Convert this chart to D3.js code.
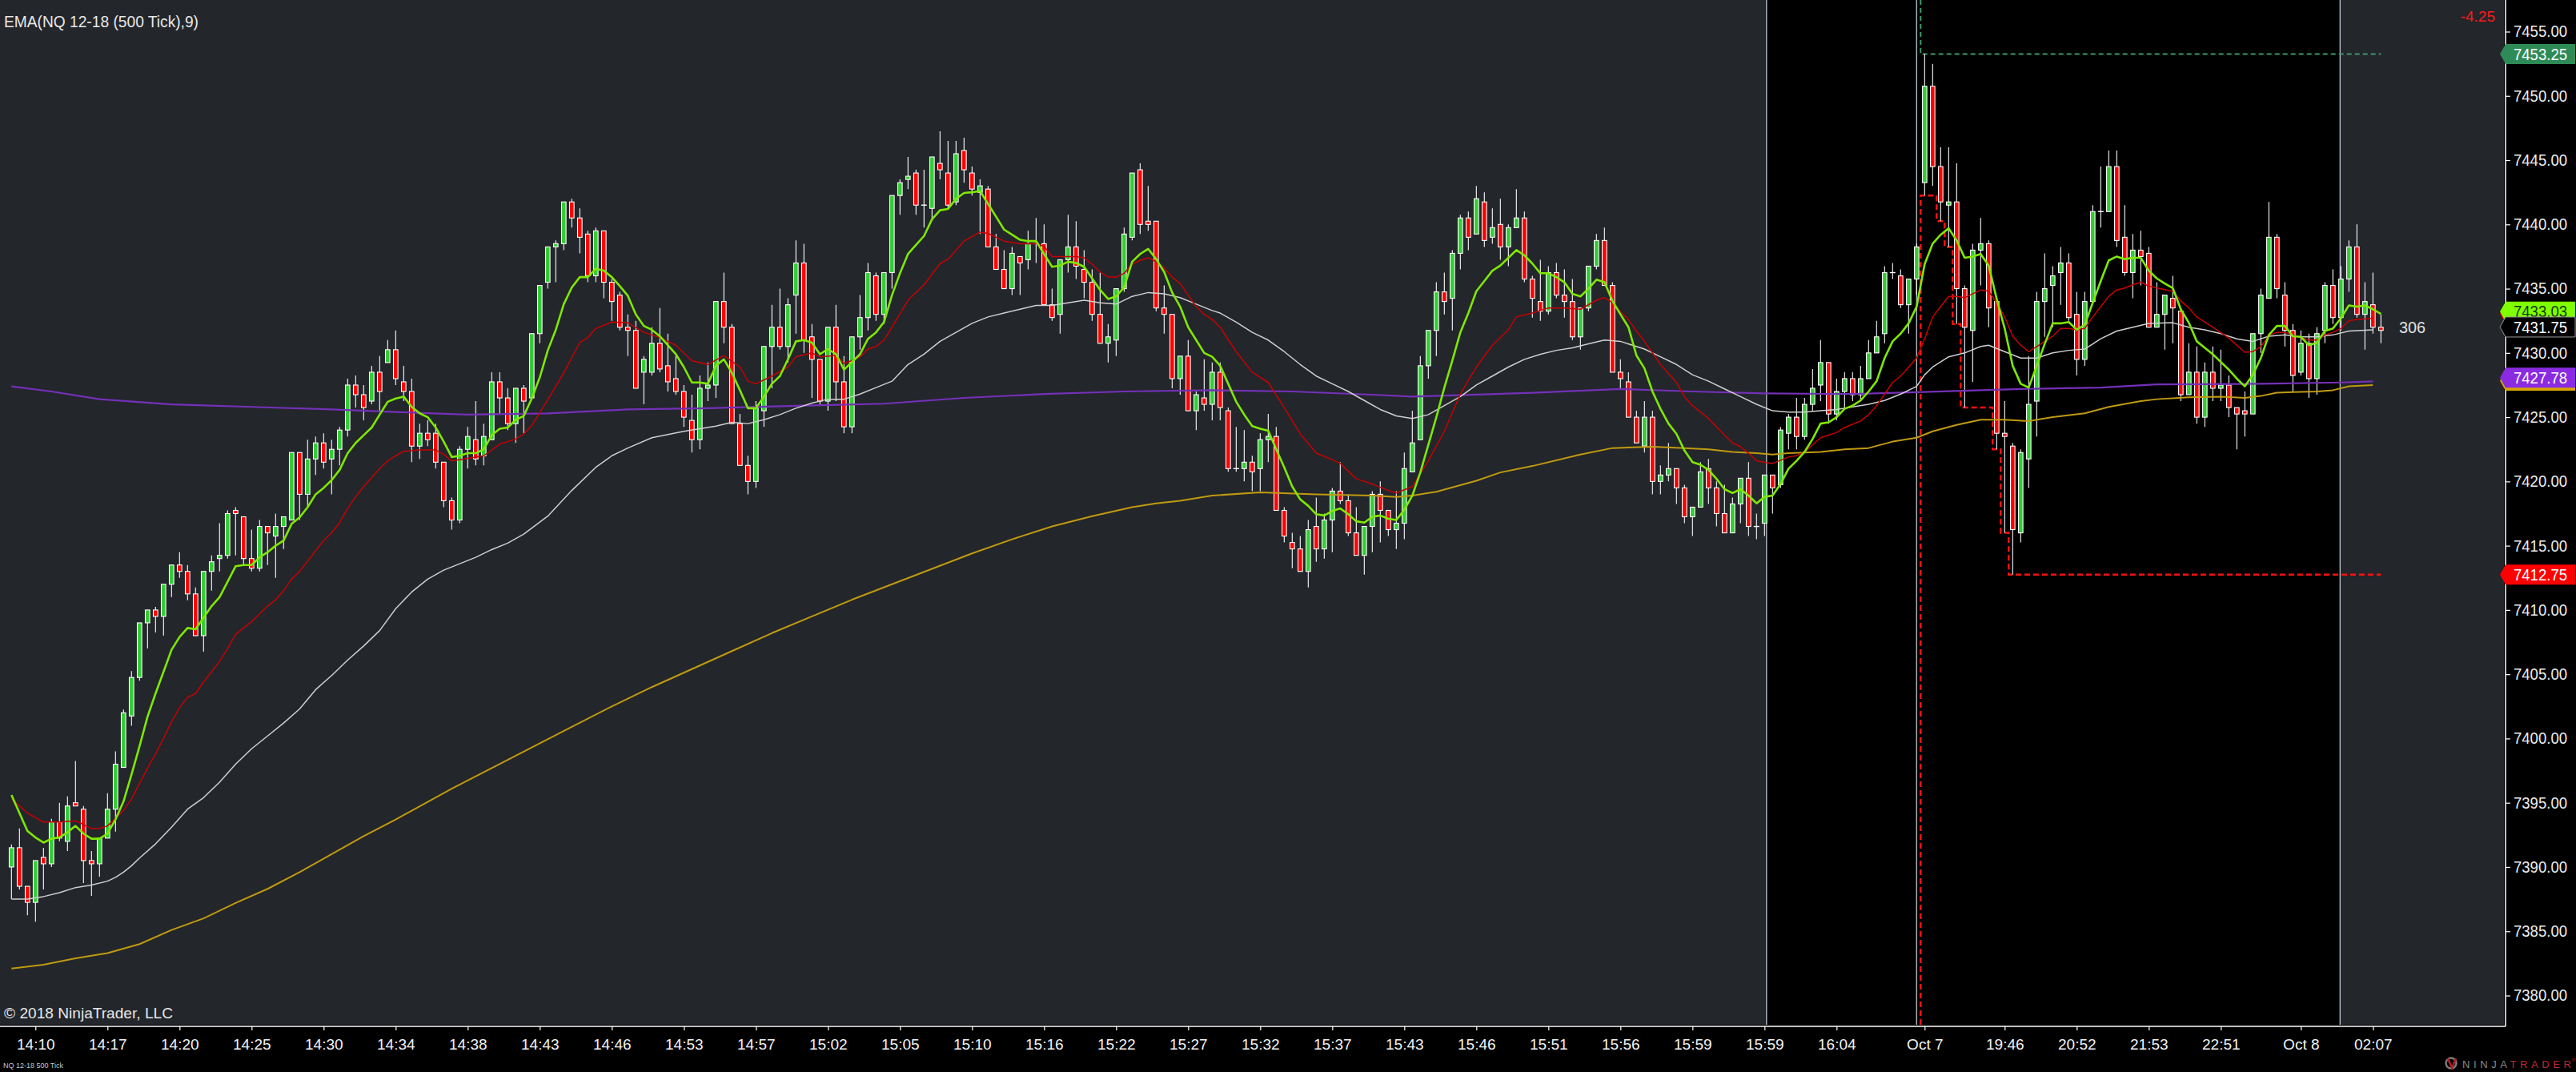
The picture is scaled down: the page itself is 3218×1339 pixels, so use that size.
<!DOCTYPE html>
<html>
<head>
<meta charset="utf-8">
<script src="https://cdn.jsdelivr.net/npm/d3@7"></script>
<style>
html, body { margin: 0; padding: 0; background: #000; overflow: hidden; }
svg { display: block; font-family: "Liberation Sans", Arial, sans-serif; }
</style>
</head>
<body>
<svg id="chart" width="3218" height="1339"></svg>
<script>
// NQ 12-18, 500 tick bars
const opens = [
7390.0,7391.5,7388.5,7387.25,7390.75,7390.25,7393.5,7392.0,7395.0,7394.5,
7390.5,7390.25,7392.25,7394.5,7397.75,7401.75,7404.75,7409.0,7410.0,7409.5,
7412.0,7413.5,7413.0,7411.25,7408.0,7413.0,7414.0,7414.25,7417.75,7417.25,
7414.0,7413.25,7416.5,7415.75,7416.5,7417.0,7422.25,7419.0,7421.75,7423.0,
7421.75,7422.5,7424.0,7427.5,7426.75,7426.25,7428.5,7429.25,7430.25,7427.75,
7427.0,7422.75,7423.75,7423.75,7421.5,7418.5,7417.0,7422.5,7423.25,7422.0,
7423.25,7427.75,7426.5,7424.5,7427.25,7426.5,7431.5,7435.5,7438.25,7438.5,
7441.75,7440.5,7439.25,7436.0,7439.5,7435.5,7434.5,7432.0,7431.75,7428.5,
7428.5,7430.75,7429.0,7428.0,7427.0,7424.75,7423.25,7427.25,7427.5,7434.0,
7432.0,7424.5,7421.25,7420.0,7425.5,7430.5,7432.0,7430.5,7434.5,7437.0,
7431.25,7429.5,7426.25,7432.0,7427.75,7424.25,7431.25,7432.75,7436.0,7433.0,
7436.25,7442.25,7443.5,7444.0,7441.5,7441.25,7444.75,7444.0,7441.75,7445.75,
7444.0,7442.5,7442.75,7438.25,7436.5,7435.0,7437.5,7437.25,7438.5,7438.5,
7433.75,7433.0,7437.25,7438.25,7436.5,7435.5,7433.0,7430.75,7431.0,7435.0,
7439.0,7444.25,7440.25,7440.25,7433.5,7433.0,7428.0,7429.75,7425.5,7426.5,
7426.0,7428.5,7425.5,7421.0,7421.0,7421.5,7421.0,7423.25,7423.5,7417.75,
7415.25,7414.75,7413.0,7416.5,7414.75,7417.0,7419.25,7418.5,7416.0,7414.25,
7416.5,7419.0,7417.75,7416.25,7416.75,7420.75,7423.25,7429.0,7431.75,7434.75,
7434.25,7437.75,7440.5,7439.25,7441.75,7439.0,7440.0,7438.25,7439.75,7440.5,
7435.75,7434.0,7433.25,7436.25,7434.5,7434.0,7431.25,7433.5,7436.75,7438.75,
7435.25,7428.5,7427.75,7425.0,7422.75,7425.0,7420.0,7420.5,7421.0,7419.5,
7417.25,7418.0,7421.0,7419.5,7417.5,7416.0,7418.25,7420.25,7416.5,7416.75,
7420.5,7419.75,7423.75,7425.0,7423.5,7426.0,7427.5,7429.25,7425.25,7427.0,
7428.0,7426.75,7428.0,7430.0,7431.5,7436.25,7436.0,7433.75,7435.75,7443.25,
7450.75,7444.5,7441.5,7441.75,7435.0,7431.75,7438.0,7438.5,7434.0,7423.75,
7422.75,7416.0,7421.75,7426.25,7434.0,7435.25,7436.25,7437.0,7433.0,7429.5,
7434.0,7441.0,7441.0,7444.5,7439.0,7436.25,7438.0,7437.75,7432.0,7433.0,
7434.25,7433.25,7426.75,7428.5,7425.0,7428.5,7427.25,7427.5,7425.75,7425.5,
7425.25,7431.5,7434.25,7439.0,7434.5,7431.75,7428.5,7430.75,7428.0,7431.75,
7435.25,7432.75,7435.75,7438.25,7433.0,7433.75,7432.0
];
const highs = [
7391.75,7393.0,7388.5,7390.5,7391.5,7393.75,7395.0,7395.5,7398.25,7394.75,
7391.25,7392.25,7395.75,7399.0,7402.25,7405.25,7409.0,7410.0,7410.25,7412.0,
7413.5,7414.5,7413.5,7411.75,7413.0,7414.25,7416.75,7417.75,7418.0,7417.25,
7416.25,7417.0,7416.5,7417.5,7417.25,7422.25,7422.25,7423.25,7423.5,7423.75,
7423.25,7424.25,7428.0,7428.25,7427.5,7429.0,7429.75,7431.0,7431.75,7429.0,
7428.0,7424.5,7424.75,7424.5,7421.5,7418.75,7422.75,7424.25,7426.25,7424.5,
7428.5,7428.5,7427.25,7427.25,7427.5,7431.5,7435.25,7438.25,7438.75,7441.75,
7442.0,7441.25,7439.5,7439.75,7439.5,7435.75,7434.75,7433.0,7432.5,7429.75,
7432.0,7433.5,7431.5,7429.75,7427.5,7426.75,7428.25,7429.25,7434.0,7436.25,
7432.25,7425.25,7422.0,7426.25,7430.5,7433.75,7435.0,7434.25,7438.75,7438.5,
7432.25,7429.5,7432.0,7433.75,7429.75,7431.25,7434.5,7437.0,7436.25,7436.25,
7442.25,7443.5,7445.25,7444.25,7444.25,7445.25,7447.25,7446.5,7446.5,7446.75,
7444.5,7443.5,7443.0,7439.25,7438.0,7438.25,7437.5,7439.5,7440.5,7440.0,
7435.0,7437.25,7440.75,7440.25,7438.0,7436.5,7436.25,7432.25,7435.0,7439.75,
7444.0,7444.75,7443.0,7440.25,7435.25,7433.0,7429.75,7431.0,7427.0,7429.5,
7429.25,7429.25,7425.75,7424.25,7424.0,7422.0,7423.75,7425.25,7424.25,7418.0,
7416.0,7415.75,7417.0,7418.75,7417.5,7419.5,7421.5,7419.0,7418.0,7416.5,
7419.25,7420.0,7417.75,7419.25,7422.25,7425.5,7429.75,7431.75,7435.5,7436.25,
7438.0,7440.75,7441.0,7443.0,7442.5,7441.25,7442.0,7440.0,7442.75,7441.0,
7436.0,7437.25,7436.75,7437.0,7436.5,7435.75,7433.5,7436.75,7439.25,7439.75,
7435.5,7429.5,7428.5,7425.5,7426.25,7425.5,7421.25,7423.0,7421.0,7419.75,
7418.0,7421.5,7421.75,7420.0,7419.75,7418.75,7420.25,7421.5,7417.5,7420.5,
7420.5,7424.25,7425.25,7426.5,7426.5,7428.75,7431.0,7429.25,7428.0,7428.5,
7428.5,7429.0,7431.0,7432.5,7436.75,7437.0,7436.5,7435.75,7438.5,7453.25,
7452.5,7446.0,7446.0,7444.75,7435.25,7438.5,7440.5,7438.75,7434.0,7426.25,
7423.0,7422.5,7429.75,7434.75,7437.75,7436.75,7438.25,7437.75,7434.75,7434.75,
7441.5,7444.5,7445.75,7445.75,7441.5,7439.25,7439.5,7438.25,7435.5,7434.5,
7436.0,7433.25,7430.75,7430.5,7429.25,7430.5,7430.25,7428.25,7425.75,7427.0,
7431.5,7435.0,7441.75,7439.25,7435.5,7432.25,7431.75,7431.5,7432.0,7435.5,
7436.5,7436.75,7438.75,7440.0,7435.5,7436.25,7433.0
];
const lows = [
7387.5,7388.25,7386.25,7385.75,7388.25,7390.0,7392.0,7391.25,7394.75,7388.75,
7387.75,7389.25,7392.25,7392.75,7397.75,7401.0,7404.5,7407.0,7408.25,7408.0,
7411.0,7412.5,7410.75,7408.0,7406.75,7411.5,7413.0,7414.0,7414.25,7413.5,
7413.0,7413.0,7413.5,7412.5,7414.75,7417.0,7417.0,7418.0,7420.5,7421.0,
7419.0,7421.25,7423.5,7425.75,7424.75,7426.0,7425.5,7429.25,7427.5,7426.25,
7421.5,7421.75,7422.75,7421.0,7418.0,7416.25,7416.75,7421.0,7421.25,7421.25,
7423.25,7425.25,7424.0,7423.0,7423.75,7426.5,7430.75,7435.0,7435.5,7438.0,
7439.75,7437.75,7435.5,7435.5,7434.25,7432.5,7431.75,7429.75,7427.25,7426.0,
7428.25,7428.5,7427.0,7426.75,7424.25,7422.25,7422.5,7426.25,7426.5,7430.75,
7424.5,7421.25,7419.0,7419.5,7424.25,7427.25,7430.25,7429.25,7431.5,7430.0,
7426.5,7426.0,7425.5,7426.25,7423.75,7423.75,7430.25,7431.75,7432.5,7432.25,
7435.0,7440.75,7442.75,7440.75,7439.75,7440.5,7443.5,7441.25,7441.5,7443.25,
7442.25,7439.25,7438.25,7436.5,7435.0,7434.5,7434.5,7436.5,7437.0,7433.75,
7432.5,7431.5,7436.25,7435.75,7434.25,7432.5,7430.75,7429.25,7429.75,7434.75,
7438.75,7439.25,7439.5,7433.25,7431.5,7427.25,7426.75,7425.5,7424.0,7425.5,
7424.75,7424.75,7420.75,7420.75,7420.0,7419.25,7419.25,7421.5,7417.75,7415.25,
7413.25,7413.0,7411.75,7413.75,7414.0,7414.5,7418.25,7415.75,7414.25,7412.75,
7414.5,7415.25,7415.75,7414.75,7415.5,7420.75,7423.25,7428.0,7429.75,7433.0,
7431.75,7436.5,7438.0,7439.25,7438.25,7438.5,7437.25,7436.75,7439.75,7435.5,
7432.75,7432.5,7433.0,7434.25,7432.75,7431.0,7430.25,7433.25,7436.5,7435.25,
7428.5,7427.25,7425.0,7423.0,7422.25,7419.0,7419.0,7420.0,7418.25,7416.75,
7415.75,7418.0,7418.25,7416.5,7416.0,7416.0,7416.75,7415.75,7415.5,7415.75,
7417.5,7419.5,7422.5,7422.5,7423.25,7425.5,7426.25,7424.5,7424.75,7425.75,
7426.25,7426.25,7428.0,7430.0,7430.75,7435.75,7433.5,7431.5,7434.5,7442.25,
7443.0,7440.25,7438.25,7432.25,7425.75,7427.75,7435.25,7432.0,7422.5,7416.0,
7412.75,7415.25,7419.5,7423.5,7431.25,7432.0,7433.75,7432.5,7428.25,7429.0,
7434.0,7439.75,7441.0,7438.25,7436.0,7434.25,7435.25,7432.0,7432.0,7430.25,
7430.75,7426.25,7426.75,7424.5,7424.25,7426.25,7426.25,7425.0,7422.5,7423.5,
7425.25,7430.0,7434.25,7434.25,7430.5,7427.0,7428.25,7426.5,7426.75,7430.75,
7432.25,7431.75,7434.75,7432.75,7430.25,7431.5,7430.75
];
const closes = [
7391.5,7388.5,7387.25,7390.5,7390.25,7393.5,7392.25,7394.75,7394.75,7390.5,
7390.25,7392.25,7394.5,7398.0,7402.0,7404.75,7409.0,7410.0,7409.5,7412.0,
7413.5,7413.0,7411.25,7408.0,7413.0,7413.75,7414.25,7417.5,7417.5,7414.0,
7413.25,7416.5,7416.0,7416.5,7417.25,7422.25,7419.0,7421.75,7423.0,7421.5,
7422.5,7424.0,7427.5,7426.75,7425.75,7428.5,7427.0,7430.25,7428.0,7427.0,
7422.75,7423.75,7423.25,7421.5,7418.5,7417.0,7422.5,7423.5,7421.75,7423.5,
7427.75,7426.5,7424.5,7427.25,7426.25,7431.5,7435.25,7438.25,7438.5,7441.75,
7440.5,7439.0,7436.0,7439.5,7435.5,7434.0,7432.0,7431.75,7427.25,7429.5,
7430.75,7428.75,7427.75,7427.0,7425.0,7423.25,7427.25,7427.5,7434.0,7432.0,
7424.5,7421.25,7420.0,7425.75,7430.5,7432.0,7430.5,7433.75,7437.0,7431.0,
7429.5,7426.25,7432.0,7427.75,7424.25,7431.25,7432.75,7436.25,7433.0,7436.25,
7442.25,7443.25,7443.75,7441.5,7441.5,7445.25,7444.25,7441.5,7445.5,7444.25,
7442.75,7443.0,7438.25,7436.5,7435.0,7437.75,7437.0,7438.5,7438.5,7433.75,
7432.75,7437.25,7438.25,7436.75,7435.5,7433.0,7430.75,7431.25,7435.0,7439.25,
7444.0,7440.0,7440.0,7433.5,7433.0,7428.0,7429.75,7425.5,7426.75,7426.0,
7428.5,7425.75,7421.0,7421.0,7421.5,7420.75,7423.25,7423.5,7417.75,7415.75,
7414.75,7413.0,7416.25,7414.75,7417.0,7419.25,7418.5,7416.0,7414.25,7416.5,
7419.0,7417.75,7416.25,7416.75,7421.0,7423.0,7429.0,7431.75,7434.75,7434.0,
7437.75,7440.5,7439.0,7442.0,7438.75,7439.75,7438.25,7439.75,7440.5,7435.75,
7434.25,7433.25,7436.25,7434.5,7434.0,7431.25,7433.5,7436.75,7438.75,7435.25,
7428.5,7428.0,7425.0,7423.0,7425.0,7420.0,7420.5,7421.0,7419.5,7417.25,
7418.0,7420.75,7419.5,7417.5,7416.0,7418.25,7420.25,7416.5,7416.5,7420.5,
7419.5,7424.0,7425.0,7423.5,7426.0,7427.25,7429.25,7425.25,7427.0,7428.0,
7426.75,7428.0,7430.0,7431.25,7436.25,7436.25,7433.75,7435.75,7438.25,7450.75,
7444.5,7441.75,7441.75,7435.0,7432.0,7438.0,7438.5,7433.5,7423.75,7423.5,
7416.25,7422.25,7426.0,7434.0,7435.0,7436.0,7437.0,7432.75,7429.5,7434.0,
7441.0,7441.0,7444.5,7438.75,7436.25,7438.0,7437.5,7432.0,7433.0,7434.5,
7433.5,7426.75,7428.5,7425.0,7428.5,7427.25,7427.5,7425.75,7425.25,7425.25,
7431.5,7434.5,7439.0,7435.0,7431.75,7428.25,7430.75,7428.0,7431.5,7435.25,
7432.75,7435.75,7438.25,7433.0,7434.0,7432.0,7431.75
];

// EMA(9), one value per bar
const ema9 = [
7395.6,7394.2,7392.8,7392.3,7391.9,7392.2,7392.3,7392.7,7393.2,7392.6,
7392.2,7392.2,7392.6,7393.7,7395.1,7397.2,7399.4,7401.7,7403.5,7405.2,
7406.9,7407.9,7408.6,7408.5,7409.4,7410.3,7411.0,7412.2,7413.4,7413.5,
7413.5,7414.1,7414.5,7415.0,7415.4,7416.7,7417.2,7418.0,7419.0,7419.5,
7420.1,7420.9,7422.2,7423.0,7423.6,7424.2,7425.2,7426.2,7426.45,7426.6,
7425.8,7425.3,7425.0,7424.2,7423.1,7421.9,7422.0,7422.2,7422.2,7422.5,
7423.6,7424.1,7424.2,7424.8,7425.1,7426.45,7428.1,7430.2,7431.8,7433.8,
7435.1,7435.9,7435.9,7436.55,7436.4,7435.9,7435.2,7434.45,7433.0,7432.1,
7431.8,7431.3,7430.6,7429.9,7428.9,7427.7,7427.7,7427.6,7429.0,7429.5,
7428.45,7427.1,7425.7,7425.7,7426.6,7427.6,7428.2,7429.5,7430.9,7431.0,
7430.8,7429.9,7430.3,7429.9,7428.7,7429.3,7429.9,7431.1,7431.6,7432.4,
7434.5,7436.2,7437.7,7438.4,7439.1,7440.4,7441.1,7441.2,7442.0,7442.45,
7442.5,7442.6,7441.6,7440.6,7439.6,7439.2,7438.8,7438.7,7438.7,7437.7,
7436.7,7436.8,7437.1,7437.0,7436.7,7435.8,7434.9,7434.2,7434.4,7435.1,
7437.1,7437.7,7438.1,7437.3,7436.3,7434.7,7433.6,7432.0,7431.0,7430.0,
7429.7,7429.0,7427.6,7426.2,7425.2,7424.3,7424.1,7423.95,7422.5,7421.1,
7419.6,7418.6,7418.1,7417.45,7417.35,7417.7,7417.9,7417.45,7416.9,7416.8,
7417.25,7417.35,7417.1,7417.0,7417.8,7418.9,7420.7,7422.85,7425.0,7427.3,
7429.4,7431.6,7433.1,7434.8,7435.6,7436.4,7436.8,7437.4,7438.0,7437.6,
7436.95,7436.2,7436.2,7435.9,7435.5,7434.6,7434.4,7435.0,7435.7,7435.5,
7434.05,7433.0,7432.0,7429.8,7428.8,7427.0,7425.65,7424.5,7423.7,7422.4,
7421.5,7421.3,7420.9,7420.2,7419.4,7419.1,7419.4,7418.9,7418.3,7418.8,
7418.9,7419.8,7421.0,7421.6,7422.3,7423.3,7424.5,7424.6,7425.0,7425.65,
7425.9,7426.3,7427.0,7427.8,7429.6,7430.9,7431.5,7432.3,7433.6,7436.9,
7438.5,7439.2,7439.7,7438.75,7437.4,7437.5,7437.7,7436.8,7434.2,7431.9,
7429.0,7427.6,7427.3,7429.0,7430.7,7432.3,7432.3,7432.4,7431.8,7432.2,
7433.9,7435.6,7437.2,7437.5,7437.3,7437.4,7437.4,7436.4,7435.8,7435.4,
7435.05,7433.4,7432.35,7430.9,7430.4,7429.9,7429.3,7428.7,7428.0,7427.4,
7428.3,7429.6,7431.4,7432.1,7432.1,7431.3,7431.25,7430.6,7430.8,7431.7,
7431.9,7432.7,7433.7,7433.6,7433.7,7433.4,7433.03
];

// slower averages, read as [bar, price]
const emaRed = [[0,7395.3],[2,7394.2],[4,7393.5],[6,7393.5],[8,7393.6],[10,7393.0],[11,7393.0],[12,7393.2],[13,7393.8],[14,7394.4],[15,7395.3],[16,7396.5],[17,7397.7],[18,7398.8],[19,7400.0],[20,7401.3],[21,7402.4],[22,7403.2],[23,7403.5],[24,7404.4],[25,7405.2],[26,7406.0],[27,7407.0],[28,7408.1],[29,7408.6],[30,7409.1],[31,7409.7],[32,7410.3],[33,7410.8],[34,7411.5],[35,7412.4],[36,7413.0],[37,7413.8],[38,7414.6],[39,7415.4],[40,7416.0],[41,7416.8],[42,7417.9],[43,7418.8],[44,7419.6],[45,7420.3],[46,7421.0],[47,7421.6],[48,7422.0],[49,7422.35],[51,7422.45],[53,7422.45],[54,7422.1],[55,7421.6],[57,7421.8],[59,7422.0],[61,7422.9],[63,7423.3],[64,7423.7],[65,7424.35],[67,7426.35],[69,7428.45],[71,7430.8],[72,7431.2],[73,7431.9],[75,7432.4],[77,7432.35],[79,7431.6],[81,7431.2],[83,7430.6],[85,7429.4],[87,7429.1],[89,7429.8],[91,7428.9],[92,7427.8],[93,7427.6],[95,7428.2],[97,7428.9],[98,7429.7],[100,7430.0],[101,7429.7],[103,7429.8],[104,7429.2],[105,7429.4],[106,7429.7],[107,7430.3],[108,7430.5],[109,7431.0],[110,7432.0],[112,7434.1],[114,7435.3],[116,7436.95],[117,7437.3],[118,7438.0],[119,7438.7],[121,7439.4],[122,7439.3],[123,7439.0],[124,7438.7],[126,7438.5],[128,7438.5],[129,7438.3],[130,7437.5],[132,7437.5],[133,7437.5],[134,7437.4],[135,7436.9],[136,7436.3],[137,7435.9],[138,7435.9],[139,7436.2],[140,7436.9],[141,7437.2],[142,7437.4],[143,7437.1],[144,7436.6],[145,7435.9],[146,7435.4],[147,7434.5],[148,7433.6],[149,7433.0],[150,7432.6],[151,7432.0],[153,7430.1],[155,7428.5],[157,7427.7],[159,7425.75],[161,7423.7],[163,7422.2],[165,7421.7],[166,7421.4],[168,7420.2],[170,7419.8],[172,7419.3],[173,7419.1],[175,7419.6],[177,7421.6],[179,7423.9],[181,7426.8],[183,7428.9],[185,7430.6],[187,7431.8],[188,7432.8],[190,7433.1],[192,7433.5],[194,7433.5],[196,7433.4],[198,7434.1],[199,7434.3],[200,7433.9],[201,7433.2],[202,7432.6],[203,7431.7],[204,7430.9],[206,7429.1],[208,7427.7],[209,7426.6],[210,7425.9],[212,7424.9],[214,7423.6],[215,7423.0],[216,7422.7],[217,7422.2],[218,7421.6],[220,7421.4],[222,7421.9],[223,7422.0],[224,7422.3],[226,7423.4],[228,7423.8],[229,7424.2],[231,7424.7],[232,7425.2],[233,7425.9],[234,7426.8],[235,7427.7],[236,7428.2],[237,7428.9],[238,7429.6],[239,7431.1],[240,7432.8],[241,7433.6],[242,7434.4],[243,7434.4],[244,7434.3],[246,7434.9],[247,7434.8],[248,7433.9],[249,7432.8],[250,7431.3],[251,7430.6],[252,7430.1],[253,7430.5],[254,7430.9],[255,7431.3],[256,7431.9],[257,7431.9],[258,7431.8],[259,7431.9],[260,7432.8],[261,7433.6],[262,7434.4],[263,7434.9],[264,7435.05],[265,7435.3],[266,7435.5],[267,7435.2],[268,7435.05],[270,7434.8],[271,7434.05],[272,7433.5],[273,7432.8],[275,7432.0],[277,7431.15],[279,7430.05],[280,7430.1],[281,7430.5],[282,7431.35],[283,7431.6],[284,7431.6],[285,7431.4],[287,7431.0],[288,7431.0],[289,7431.4],[290,7431.6],[291,7431.9],[292,7432.5],[293,7432.6],[295,7432.7]];

const emaGray = [[0,7387.5],[2,7387.5],[4,7387.7],[6,7388.0],[8,7388.4],[10,7388.6],[12,7388.9],[13,7389.2],[14,7389.6],[15,7390.1],[16,7390.7],[18,7391.8],[20,7393.1],[22,7394.5],[24,7395.4],[26,7396.6],[28,7398.0],[30,7399.2],[32,7400.2],[34,7401.2],[36,7402.3],[38,7403.8],[40,7404.9],[42,7406.1],[44,7407.2],[46,7408.4],[48,7410.1],[50,7411.4],[52,7412.4],[54,7413.1],[56,7413.6],[58,7414.1],[60,7414.7],[62,7415.2],[64,7415.9],[67,7417.3],[70,7419.3],[73,7421.1],[75,7422.0],[77,7422.6],[80,7423.4],[84,7423.9],[88,7424.3],[90,7424.6],[92,7424.5],[94,7424.8],[96,7425.2],[98,7425.7],[100,7426.1],[102,7426.4],[104,7426.4],[106,7426.8],[108,7427.3],[110,7427.8],[112,7429.1],[114,7429.9],[116,7430.9],[118,7431.6],[120,7432.3],[122,7432.8],[124,7433.1],[126,7433.4],[128,7433.7],[130,7433.7],[132,7433.9],[134,7434.1],[136,7433.9],[138,7433.8],[140,7434.4],[142,7434.7],[144,7434.6],[146,7434.3],[148,7433.8],[150,7433.3],[151,7433.1],[153,7432.4],[155,7431.6],[157,7431.0],[159,7430.1],[161,7429.1],[163,7428.2],[165,7427.6],[167,7427.0],[169,7426.3],[171,7425.6],[173,7425.1],[175,7424.9],[177,7425.2],[179,7425.9],[181,7426.6],[183,7427.5],[185,7428.2],[187,7428.9],[189,7429.5],[191,7429.9],[193,7430.2],[195,7430.4],[197,7430.7],[199,7431.0],[201,7430.9],[204,7430.3],[206,7429.7],[208,7429.1],[210,7428.3],[212,7427.8],[214,7427.2],[216,7426.6],[218,7426.0],[220,7425.5],[222,7425.4],[224,7425.4],[226,7425.5],[228,7425.6],[230,7425.8],[232,7426.0],[234,7426.3],[236,7426.8],[238,7427.4],[239,7428.3],[240,7428.9],[242,7429.7],[244,7430.0],[246,7430.5],[247,7430.6],[249,7430.1],[251,7429.6],[253,7429.6],[255,7430.0],[257,7430.2],[259,7430.3],[261,7431.1],[263,7431.7],[265,7432.0],[267,7432.3],[270,7432.35],[272,7432.0],[274,7431.8],[276,7431.5],[278,7431.1],[280,7430.9],[282,7431.3],[284,7431.4],[286,7431.25],[288,7431.25],[290,7431.4],[292,7431.7],[295,7431.8]];

const emaGold = [[0,7382.1],[4,7382.4],[8,7382.9],[12,7383.3],[16,7384.0],[20,7385.1],[24,7386.0],[28,7387.2],[32,7388.3],[36,7389.6],[40,7391.0],[44,7392.4],[48,7393.7],[55,7396.1],[60,7397.7],[65,7399.3],[70,7400.9],[75,7402.5],[80,7404.0],[85,7405.4],[90,7406.8],[95,7408.2],[100,7409.5],[105,7410.8],[110,7412.0],[115,7413.2],[120,7414.4],[125,7415.5],[130,7416.5],[135,7417.3],[140,7418.0],[143,7418.3],[146,7418.5],[150,7418.9],[156,7419.15],[163,7419.0],[170,7418.9],[173,7418.8],[175,7418.9],[178,7419.2],[183,7420.05],[186,7420.7],[190,7421.2],[196,7422.1],[200,7422.6],[205,7422.7],[209,7422.6],[212,7422.5],[215,7422.3],[218,7422.2],[220,7422.1],[222,7422.2],[226,7422.3],[229,7422.5],[232,7422.6],[235,7423.1],[238,7423.4],[240,7423.9],[243,7424.4],[246,7424.8],[249,7424.8],[252,7424.7],[255,7425.0],[259,7425.3],[262,7425.8],[266,7426.25],[268,7426.4],[272,7426.55],[276,7426.6],[279,7426.5],[281,7426.65],[283,7426.9],[285,7426.95],[288,7427.0],[290,7427.1],[292,7427.4],[295,7427.5]];

const emaPurple = [[0,7427.4],[5,7427.0],[11,7426.4],[20,7426.0],[30,7425.8],[40,7425.6],[48,7425.4],[57,7425.2],[67,7425.3],[77,7425.6],[87,7425.7],[99,7425.9],[109,7426.05],[119,7426.5],[129,7426.8],[139,7427.0],[150,7427.1],[160,7427.0],[170,7426.75],[175,7426.6],[180,7426.7],[190,7426.9],[201,7427.2],[210,7427.0],[219,7426.85],[230,7426.8],[238,7426.95],[251,7427.2],[261,7427.3],[268,7427.55],[281,7427.6],[291,7427.7],[295,7427.78]];

// session high / low tracking, [first bar, price]
const highSteps = [[239,7453.25]];
const lowSteps = [[239,7442.25],[241,7440.25],[242,7438.25],[243,7432.25],[244,7425.75],[248,7422.5],[249,7416.0],[250,7412.75]];

// session shading and break lines, in bars
const nightSession = [219.25, 290.9];
const breakBars = [219.25, 238, 290.9];

const timeTickBars = [3,12,21,30,39,48,57,66,75,84,93,102,111,120,129,138,147,156,165,174,183,192,201,210,219,228,239,249,258,267,276,286,295];
const timeLabels = ["14:10","14:17","14:20","14:25","14:30","14:34","14:38","14:43","14:46","14:53","14:57","15:02","15:05","15:10","15:16","15:22","15:27","15:32","15:37","15:43","15:46","15:51","15:56","15:59","15:59","16:04","Oct 7","19:46","20:52","21:53","22:51","Oct 8","02:07"];
const priceTicks = [7380,7385,7390,7395,7400,7405,7410,7415,7420,7425,7430,7435,7440,7445,7450,7455];

const plotRight = 3128, plotBottom = 1280, axisX = 3130, axisY = 1282;

const svg = d3.select("#chart");

const x = d3.scaleLinear()
    .domain([0, closes.length - 1])
    .range([14.3, 14.3 + 10 * (closes.length - 1)]);

const y = d3.scaleLinear()
    .domain([7380, 7455])
    .range([1243.5, 39.5]);

svg.append("rect")
    .attr("width", 3218).attr("height", 1339)
    .attr("fill", "#000");

svg.append("rect")
    .attr("width", plotRight).attr("height", plotBottom)
    .attr("fill", "#23262b");

svg.append("defs").append("clipPath").attr("id", "plotclip")
    .append("rect").attr("width", plotRight).attr("height", plotBottom);

const plot = svg.append("g").attr("clip-path", "url(#plotclip)");

plot.append("rect")
    .attr("x", x(nightSession[0]))
    .attr("width", x(nightSession[1]) - x(nightSession[0]))
    .attr("height", plotBottom)
    .attr("fill", "#000");

plot.selectAll("line.brk")
    .data(breakBars)
    .enter()
    .append("line")
    .attr("class", "brk")
    .attr("x1", d => x(d)).attr("x2", d => x(d))
    .attr("y1", 0).attr("y2", plotBottom)
    .attr("stroke", "#b9c3d3")
    .attr("stroke-width", 1.3);

// session high (green dashed) and low (red dashed step)
const lastX = x(closes.length - 1);
const hi = highSteps[0];
plot.append("path")
    .attr("d", `M${x(hi[0] - 0.5)},0 V${y(hi[1])} H${lastX}`)
    .attr("fill", "none")
    .attr("stroke", "#3a9a6a")
    .attr("stroke-width", 2)
    .attr("stroke-dasharray", "6,4");

let lowPath = `M${x(lowSteps[0][0] - 0.5)},${plotBottom}`;
lowSteps.forEach((s, k) => {
    const sx = x(s[0] - 0.5);
    lowPath += (k === 0 ? ` V${y(s[1])}` : ` H${sx} V${y(s[1])}`);
});
lowPath += ` H${lastX}`;
plot.append("path")
    .attr("d", lowPath)
    .attr("fill", "none")
    .attr("stroke", "#ff1010")
    .attr("stroke-width", 2.5)
    .attr("stroke-dasharray", "7,4");

// candles
const bars = d3.range(closes.length).map(i => ({
    i: i, o: opens[i], h: highs[i], l: lows[i], c: closes[i]
}));

const candle = plot.selectAll("g.bar")
    .data(bars)
    .enter()
    .append("g")
    .attr("class", "bar");

candle.append("line")
    .attr("x1", d => x(d.i)).attr("x2", d => x(d.i))
    .attr("y1", d => y(d.h)).attr("y2", d => y(d.l))
    .attr("stroke", "#fff")
    .attr("stroke-width", 1.1);

candle.filter(d => d.o !== d.c)
    .append("rect")
    .attr("x", d => x(d.i) - 2.8)
    .attr("width", 5.6)
    .attr("y", d => y(Math.max(d.o, d.c)))
    .attr("height", d => Math.max(1, y(Math.min(d.o, d.c)) - y(Math.max(d.o, d.c))))
    .attr("fill", d => d.c > d.o ? "#32cd32" : "#ff0000")
    .attr("stroke", "#fff")
    .attr("stroke-width", 1.1);

candle.filter(d => d.o === d.c)
    .append("line")
    .attr("x1", d => x(d.i) - 3.5).attr("x2", d => x(d.i) + 3.5)
    .attr("y1", d => y(d.o)).attr("y2", d => y(d.o))
    .attr("stroke", "#fff")
    .attr("stroke-width", 1.4);

// moving averages
const line = d3.line()
    .x(d => x(d[0]))
    .y(d => y(d[1]));

const series = [
    {pts: emaPurple, color: "#7430b8", w: 2.2},
    {pts: emaGold, color: "#c09a10", w: 2},
    {pts: emaGray, color: "#cfcfcf", w: 1.5},
    {pts: emaRed, color: "#c80000", w: 1.5},
    {pts: ema9.map((v, i) => [i, v]), color: "#7fe800", w: 2.6}
];

series.forEach(s => {
    plot.append("path")
        .datum(s.pts)
        .attr("d", line)
        .attr("fill", "none")
        .attr("stroke", s.color)
        .attr("stroke-width", s.w)
        .attr("stroke-linejoin", "round");
});

// axes
svg.append("line")
    .attr("x1", axisX).attr("x2", axisX)
    .attr("y1", 0).attr("y2", axisY)
    .attr("stroke", "#fff").attr("stroke-width", 1.5);

svg.append("line")
    .attr("x1", 0).attr("x2", axisX)
    .attr("y1", axisY).attr("y2", axisY)
    .attr("stroke", "#fff").attr("stroke-width", 1.5);

const yAxis = svg.append("g")
    .attr("transform", `translate(${axisX},0)`)
    .call(d3.axisRight(y).tickValues(priceTicks).tickFormat(d3.format(".2f")).tickSize(6).tickPadding(4));
yAxis.select(".domain").remove();
yAxis.selectAll("line").attr("stroke", "#fff").attr("stroke-width", 1.2);
yAxis.selectAll("text")
    .attr("fill", "#ececec")
    .attr("font-size", 20)
    .attr("font-family", "Liberation Sans, Arial, sans-serif")
    .attr("textLength", 67)
    .attr("lengthAdjust", "spacingAndGlyphs");

const xAxis = svg.append("g")
    .attr("transform", `translate(0,${axisY})`)
    .call(d3.axisBottom(x).tickValues(timeTickBars).tickFormat((d, k) => timeLabels[k]).tickSize(5));
xAxis.select(".domain").remove();
xAxis.selectAll("line").attr("stroke", "#fff").attr("stroke-width", 1.2);
xAxis.selectAll("text")
    .attr("y", 16)
    .attr("fill", "#f2f2f2")
    .attr("font-size", 19)
    .attr("font-family", "Liberation Sans, Arial, sans-serif");

// price markers on the right axis
const tags = [
    {p: emaGold[emaGold.length - 1][1], nudge: -5.5, fill: "#d9a400", text: "#fff"},
    {p: emaPurple[emaPurple.length - 1][1], nudge: -4.7, fill: "#8a2be2", text: "#fff"},
    {p: emaRed[emaRed.length - 1][1], nudge: -5.5, fill: "#d00000", text: "#fff"},
    {p: ema9[ema9.length - 1], nudge: -3, fill: "#7fff00", text: "#163a00"},
    {p: closes[closes.length - 1], nudge: -4.3, fill: "#000", text: "#fff", stroke: "#9a9a9a"},
    {p: highSteps[0][1], nudge: 0, fill: "#2e8b57", text: "#fff"},
    {p: lowSteps[lowSteps.length - 1][1], nudge: 0, fill: "#ff0000", text: "#fff"}
];

tags.forEach(t => {
    const cy = y(t.p) + t.nudge;
    const g = svg.append("g");
    g.append("path")
        .attr("d", `M3123,${cy} L3130,${cy - 12.5} H3217 V${cy + 12.5} H3130 Z`)
        .attr("fill", t.fill)
        .attr("stroke", t.stroke || "none")
        .attr("stroke-width", 1);
    g.append("text")
        .attr("x", 3140).attr("y", cy)
        .attr("dy", "0.36em")
        .attr("fill", t.text)
        .attr("font-size", 20)
        .attr("textLength", 67)
        .attr("lengthAdjust", "spacingAndGlyphs")
        .text(t.p.toFixed(2));
});

// texts
svg.append("text")
    .attr("x", 5).attr("y", 34)
    .attr("fill", "#e8e8e8")
    .attr("font-size", 21)
    .attr("textLength", 243)
    .attr("lengthAdjust", "spacingAndGlyphs")
    .text("EMA(NQ 12-18 (500 Tick),9)");

svg.append("text")
    .attr("x", 3117).attr("y", 27)
    .attr("text-anchor", "end")
    .attr("fill", "#ff1a1a")
    .attr("font-size", 19)
    .text("-4.25");

svg.append("text")
    .attr("x", 2997).attr("y", y(closes[closes.length - 1]) - 4.3)
    .attr("dy", "0.36em")
    .attr("fill", "#e2e2e2")
    .attr("font-size", 21)
    .attr("textLength", 33)
    .attr("lengthAdjust", "spacingAndGlyphs")
    .text("306");

svg.append("text")
    .attr("x", 5).attr("y", 1272)
    .attr("fill", "#e8e8e8")
    .attr("font-size", 19)
    .attr("textLength", 211)
    .attr("lengthAdjust", "spacingAndGlyphs")
    .text("\u00a9 2018 NinjaTrader, LLC");

svg.append("text")
    .attr("x", 4).attr("y", 1334)
    .attr("fill", "#c8c8c8")
    .attr("font-size", 9)
    .attr("textLength", 75)
    .attr("lengthAdjust", "spacingAndGlyphs")
    .text("NQ 12-18 500 Tick");

// logo
svg.append("circle")
    .attr("cx", 3062).attr("cy", 1328).attr("r", 6.5)
    .attr("fill", "none").attr("stroke", "#7a7a7a").attr("stroke-width", 2.5);
svg.append("path")
    .attr("d", "M3058,1322 L3063,1334 L3068,1322")
    .attr("fill", "none").attr("stroke", "#b02025").attr("stroke-width", 2.5);

const logo = svg.append("text")
    .attr("x", 3076).attr("y", 1334)
    .attr("font-size", 13)
    .attr("textLength", 136)
    .attr("lengthAdjust", "spacing");
logo.append("tspan").attr("fill", "#8a8a8a").text("NINJA");
logo.append("tspan").attr("fill", "#c0282d").text("TRADER");
svg.append("text")
    .attr("x", 3213).attr("y", 1326)
    .attr("font-size", 6).attr("fill", "#c0282d")
    .text("\u00ae");
</script>
</body>
</html>
